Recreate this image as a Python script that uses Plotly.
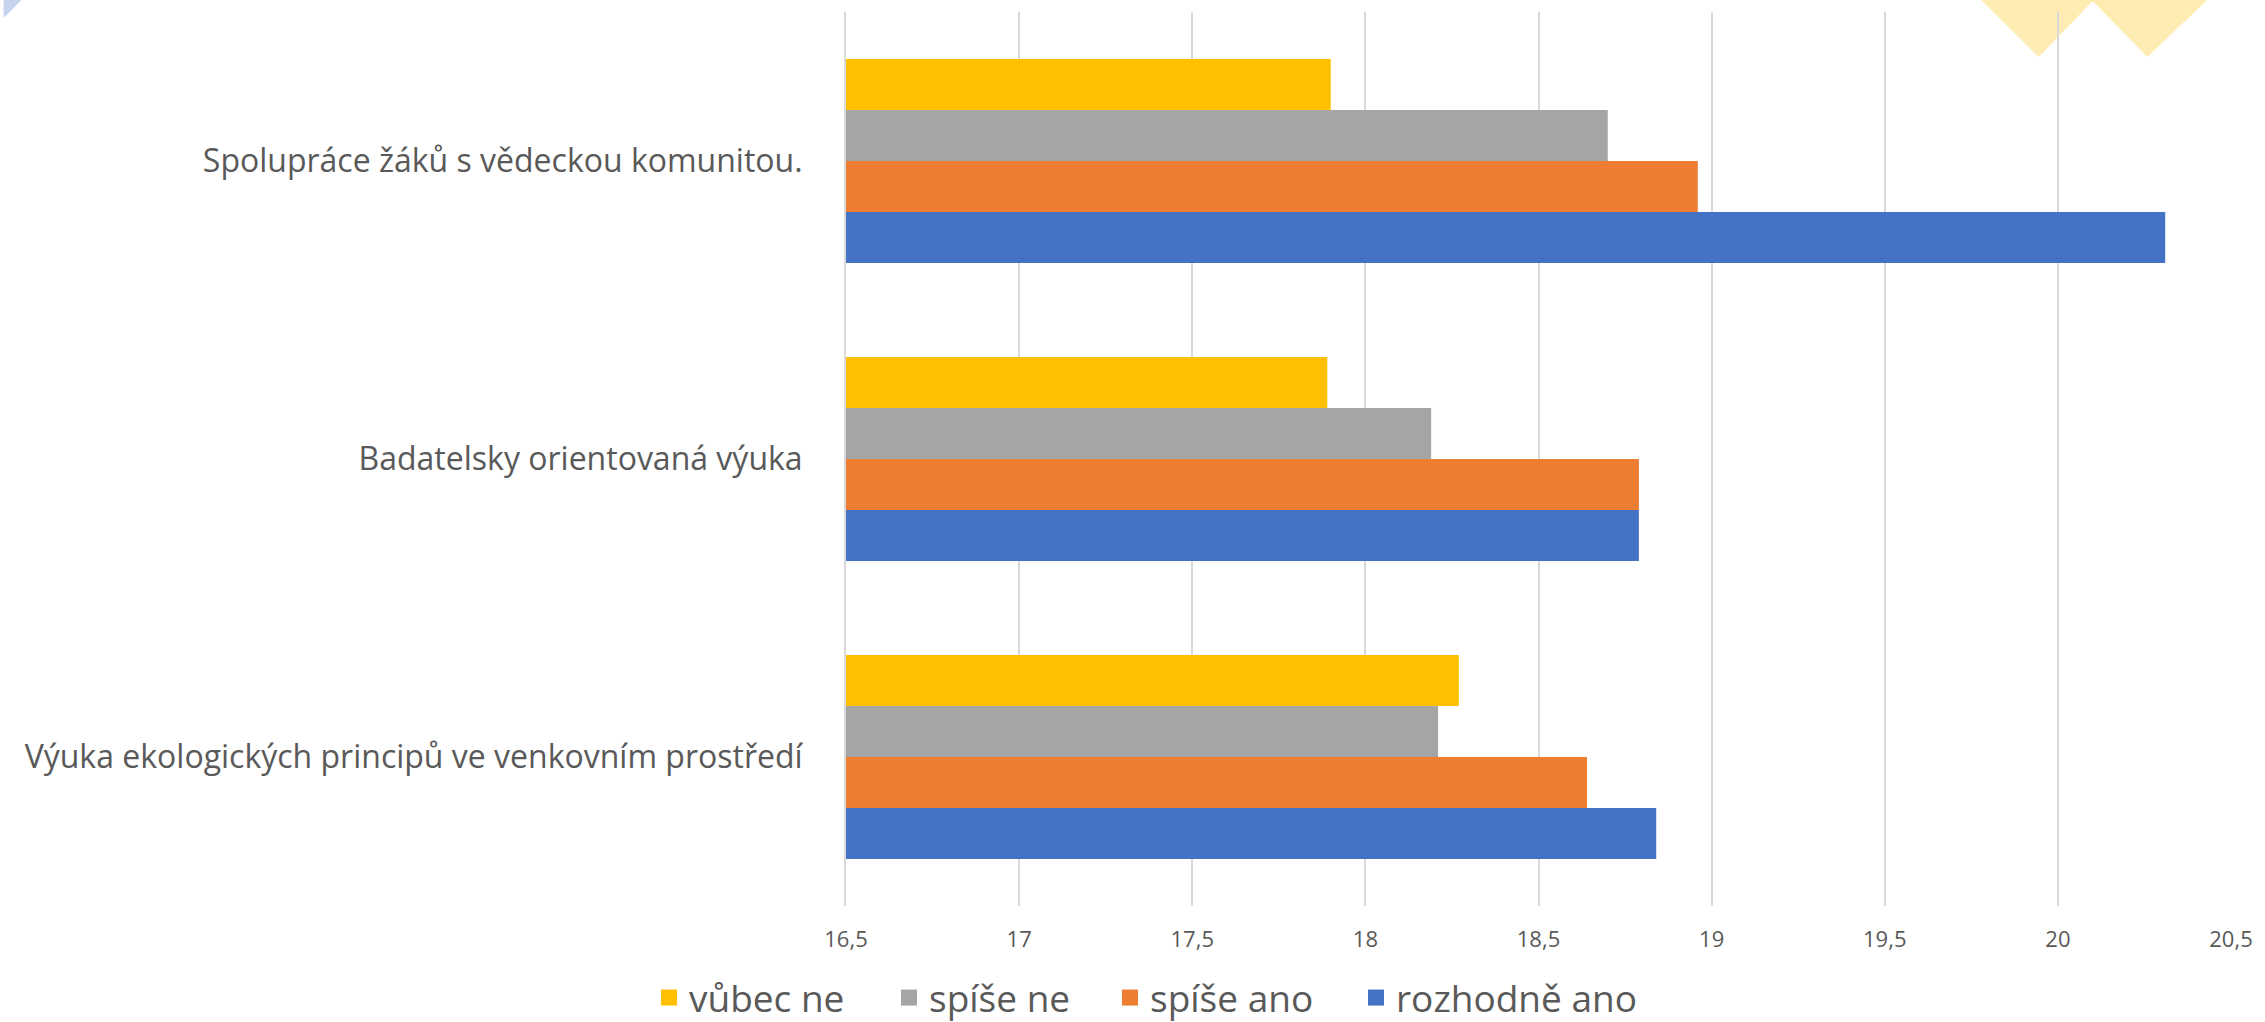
import plotly.graph_objects as go

# ---- data ----
categories = [
    "Spolupráce žáků s vědeckou komunitou.",
    "Badatelsky orientovaná výuka",
    "Výuka ekologických principů ve venkovním prostředí",
]
series_names = ["vůbec ne", "spíše ne", "spíše ano", "rozhodně ano"]
vubec_ne = [17.90, 17.89, 18.27]
spise_ne = [18.70, 18.19, 18.21]
spise_ano = [18.96, 18.79, 18.64]
rozhodne_ano = [20.31, 18.79, 18.84]
tick_values = [16.5, 17, 17.5, 18, 18.5, 19, 19.5, 20, 20.5]
tick_labels = ["16,5", "17", "17,5", "18", "18,5", "19", "19,5", "20", "20,5"]

colors = ["#FFC000", "#A5A5A5", "#ED7D31", "#4472C4"]
series_values = [vubec_ne, spise_ne, spise_ano, rozhodne_ano]

W, H = 2265, 1022
L, R, T, B = 846, 28, 12, 116
PW, PH = W - L - R, H - T - B

# legend entry square centres (pixels) in the reference
legend_centers = [671, 911, 1132, 1378]
legend_ids = ["legend", "legend2", "legend3", "legend4"]

fig = go.Figure()
for name, vals, col in zip(series_names, series_values, colors):
    fig.add_trace(go.Bar(
        y=categories, x=vals, name=name, orientation="h",
        marker=dict(color=col, line=dict(width=0)),
        showlegend=False,
    ))

# legend entries with larger square symbols
for name, col, lg in zip(series_names, colors, legend_ids):
    fig.add_trace(go.Scatter(
        x=[None], y=[None], mode="markers", name=name, legend=lg,
        marker=dict(symbol="square", size=22, color=col),
        showlegend=True, hoverinfo="skip",
    ))


def px(x, y):
    return (x - L) / PW, 1 - (y - T) / PH


def tri(points, color):
    pts = [px(*p) for p in points]
    path = "M {} {} L {} {} L {} {} Z".format(*[c for p in pts for c in p])
    return dict(type="path", xref="paper", yref="paper", path=path,
                fillcolor=color, opacity=0.3, line=dict(width=0), layer="below")


shapes = [
    tri([(0, 0), (18, 0), (0, 18)], "#4472C4"),
    tri([(1986, 0), (2099, 0), (2044, 57)], "#FFC000"),
    tri([(2097, 0), (2213, 0), (2153, 57)], "#FFC000"),
]

legend_common = dict(
    orientation="h", xref="container", yref="container",
    xanchor="left", y=1 - 998 / H, yanchor="middle",
    font=dict(size=37, color="#595959"), itemsizing="trace",
    bgcolor="rgba(0,0,0,0)", borderwidth=0, itemclick=False,
)
legends = {}
for lg, cx in zip(legend_ids, legend_centers):
    legends[lg] = dict(legend_common, x=(cx - 22) / W)

fig.update_layout(
    width=W, height=H,
    margin=dict(l=L, r=R, t=T, b=B, pad=0),
    paper_bgcolor="white", plot_bgcolor="white",
    barmode="group", bargap=0.315, bargroupgap=0,
    font=dict(family="Open Sans", color="#595959"),
    shapes=shapes,
    showlegend=True,
    **legends,
    xaxis=dict(
        range=[16.5, 20.5], tickvals=tick_values, ticktext=tick_labels,
        showgrid=True, gridcolor="#D9D9D9", gridwidth=2,
        zeroline=False, showline=False, ticks="",
        tickfont=dict(size=22, color="#595959"),
        ticklabelstandoff=18,
    ),
    yaxis=dict(
        autorange="reversed", showgrid=False, zeroline=False,
        showline=True, linecolor="#D9D9D9", linewidth=2,
        ticks="", tickfont=dict(size=32, color="#595959"),
        ticklabelstandoff=35,
    ),
)

fig.write_html(
    "out.html",
    config={"displayModeBar": False},
    post_script="document.body.style.margin='0px';document.body.style.overflow='hidden';",
)
